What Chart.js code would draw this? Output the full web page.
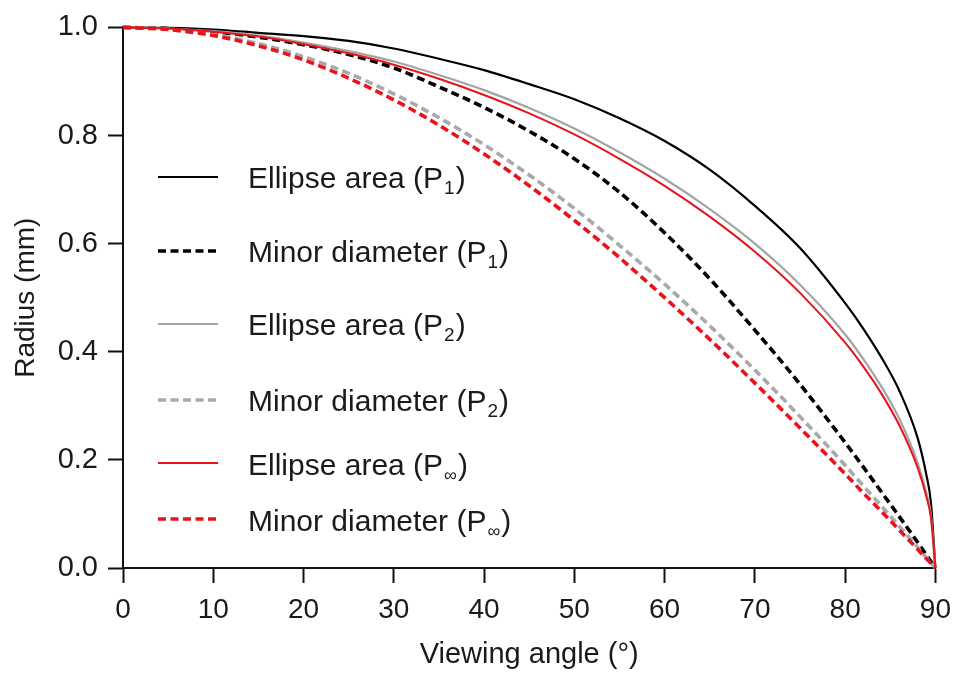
<!DOCTYPE html>
<html>
<head>
<meta charset="utf-8">
<script src="https://cdn.jsdelivr.net/npm/chart.js@4/dist/chart.umd.min.js"></script>
<style>
  html, body { margin: 0; padding: 0; background: #ffffff; }
  #wrap { width: 961px; height: 677px; }
</style>
</head>
<body>
<div id="wrap"><canvas id="c" width="961" height="677"></canvas></div>
<script>
// Viewing angle in degrees (x values shared by every curve)
const angles = [0, 5, 10, 15, 20, 25, 30, 35, 40, 45, 50, 55, 60, 65, 70, 75, 80, 82, 84, 86, 88, 89, 89.5, 90];

// Apparent radius (mm) for each projection / measure
const areaP1    = [1, 0.999, 0.996, 0.990, 0.984, 0.975, 0.961, 0.942, 0.921, 0.895, 0.867, 0.832, 0.790, 0.737, 0.670, 0.592, 0.490, 0.443, 0.390, 0.328, 0.242, 0.172, 0.121, 0];
const minorP1   = [1, 0.998, 0.992, 0.982, 0.968, 0.950, 0.925, 0.890, 0.852, 0.808, 0.757, 0.695, 0.620, 0.535, 0.440, 0.340, 0.232, 0.187, 0.141, 0.095, 0.048, 0.024, 0.012, 0];
const areaP2    = [1, 0.998, 0.993, 0.985, 0.972, 0.956, 0.937, 0.912, 0.884, 0.851, 0.813, 0.769, 0.720, 0.664, 0.600, 0.524, 0.432, 0.387, 0.336, 0.276, 0.196, 0.139, 0.098, 0];
const minorP2   = [1, 0.997, 0.987, 0.970, 0.946, 0.915, 0.877, 0.833, 0.783, 0.727, 0.665, 0.597, 0.525, 0.448, 0.366, 0.280, 0.190, 0.152, 0.115, 0.077, 0.039, 0.019, 0.010, 0];
const areaPinf  = [1, 0.998, 0.992, 0.983, 0.969, 0.952, 0.931, 0.905, 0.875, 0.841, 0.802, 0.757, 0.707, 0.650, 0.585, 0.509, 0.417, 0.373, 0.323, 0.264, 0.187, 0.132, 0.093, 0];
const minorPinf = [1, 0.996, 0.985, 0.966, 0.940, 0.906, 0.866, 0.819, 0.766, 0.707, 0.643, 0.574, 0.500, 0.423, 0.342, 0.259, 0.174, 0.139, 0.105, 0.070, 0.035, 0.017, 0.009, 0];

// Legend wording: measure name and projection subscript
const seriesNames = ['Ellipse area', 'Minor diameter', 'Ellipse area', 'Minor diameter', 'Ellipse area', 'Minor diameter'];
const seriesSubs  = ['1', '1', '2', '2', '\u221E', '\u221E'];

// Axis ticks
const xTickValues = [0, 10, 20, 30, 40, 50, 60, 70, 80, 90];
const yTickValues = [0, 0.2, 0.4, 0.6, 0.8, 1.0];
const yTickLabels = ['0.0', '0.2', '0.4', '0.6', '0.8', '1.0'];

const FONT = "'Liberation Sans', Arial, Helvetica, sans-serif";
const INK = '#1a1a1a';
const RED = '#e8141b';
const GREY = '#a4a4a4';

const seriesValues = [areaP1, minorP1, areaP2, minorP2, areaPinf, minorPinf];
const seriesStyles = [
  { color: '#000000', width: 2.2, dash: [] },
  { color: '#000000', width: 3.6, dash: [8, 4.5] },
  { color: GREY,      width: 2.2, dash: [] },
  { color: '#a9a9a9', width: 3.6, dash: [8, 4.5] },
  { color: RED,       width: 2.0, dash: [] },
  { color: RED,       width: 3.6, dash: [8, 4.5] }
];
// Drawing order: red curves on top, black at the bottom
const drawOrder = [5, 4, 3, 2, 1, 0];

const datasets = seriesValues.map((vals, i) => ({
  label: seriesNames[i] + ' (P' + seriesSubs[i] + ')',
  data: angles.map((a, k) => ({ x: a, y: vals[k] })),
  borderColor: seriesStyles[i].color,
  borderWidth: seriesStyles[i].width,
  borderDash: seriesStyles[i].dash,
  borderCapStyle: 'butt',
  pointRadius: 0,
  fill: false,
  cubicInterpolationMode: 'monotone',
  clip: 8,
  order: drawOrder[i]
}));

// Legend rows inside the plot: line centre and text baseline (px)
const legendRows = [
  { lineY: 177, baseY: 188 },
  { lineY: 251, baseY: 262 },
  { lineY: 324, baseY: 335 },
  { lineY: 400, baseY: 411 },
  { lineY: 463, baseY: 475 },
  { lineY: 519, baseY: 531 }
];

const inPlotLegend = {
  id: 'inPlotLegend',
  afterDraw(chart) {
    const ctx = chart.ctx;
    ctx.save();
    chart.data.datasets.forEach((ds, i) => {
      const row = legendRows[i];
      ctx.beginPath();
      ctx.setLineDash(ds.borderDash);
      ctx.lineWidth = ds.borderWidth;
      ctx.strokeStyle = ds.borderColor;
      ctx.lineCap = 'butt';
      ctx.moveTo(158, row.lineY);
      ctx.lineTo(218, row.lineY);
      ctx.stroke();
      ctx.setLineDash([]);

      ctx.fillStyle = INK;
      ctx.textBaseline = 'alphabetic';
      ctx.textAlign = 'left';
      let x = 248;
      ctx.font = '30px ' + FONT;
      const main = seriesNames[i] + ' (P';
      ctx.fillText(main, x, row.baseY);
      x += ctx.measureText(main).width;
      const sub = seriesSubs[i];
      ctx.font = (sub === '\u221E' ? '18px ' : '19px ') + FONT;
      ctx.fillText(sub, x + 1, row.baseY + 6);
      x += ctx.measureText(sub).width + 2;
      ctx.font = '30px ' + FONT;
      ctx.fillText(')', x, row.baseY);
    });
    ctx.restore();
  }
};

new Chart(document.getElementById('c'), {
  type: 'line',
  data: { datasets },
  options: {
    responsive: false,
    animation: false,
    devicePixelRatio: 1,
    layout: { padding: { top: 22, right: 21, left: 0, bottom: 0 } },
    plugins: { legend: { display: false }, tooltip: { enabled: false } },
    scales: {
      x: {
        type: 'linear',
        min: 0,
        max: 90,
        afterBuildTicks: s => { s.ticks = xTickValues.map(v => ({ value: v })); },
        afterFit: s => { s.height = 109; },
        ticks: {
          color: INK,
          font: { family: FONT, size: 28 },
          padding: 10,
          maxRotation: 0,
          callback: v => String(v)
        },
        grid: { display: true, drawOnChartArea: false, drawTicks: true, tickLength: 15, tickWidth: 2, tickColor: '#111' },
        border: { display: true, color: '#111', width: 2 },
        title: {
          display: true,
          text: 'Viewing angle (\u00B0)',
          color: INK,
          font: { family: FONT, size: 29 },
          padding: { top: 0, bottom: 5 }
        }
      },
      y: {
        type: 'linear',
        min: 0,
        max: 1,
        afterBuildTicks: s => { s.ticks = yTickValues.map(v => ({ value: v })); },
        afterFit: s => { s.width = 123; },
        ticks: {
          color: INK,
          font: { family: FONT, size: 29 },
          padding: 10,
          callback: v => yTickLabels[yTickValues.findIndex(t => Math.abs(t - v) < 1e-9)]
        },
        grid: { display: true, drawOnChartArea: false, drawTicks: true, tickLength: 15, tickWidth: 2, tickColor: '#111' },
        border: { display: true, color: '#111', width: 2 },
        title: {
          display: true,
          text: 'Radius (mm)',
          color: INK,
          font: { family: FONT, size: 28 },
          padding: { top: 9, bottom: 0 }
        }
      }
    }
  },
  plugins: [inPlotLegend]
});
</script>
</body>
</html>
